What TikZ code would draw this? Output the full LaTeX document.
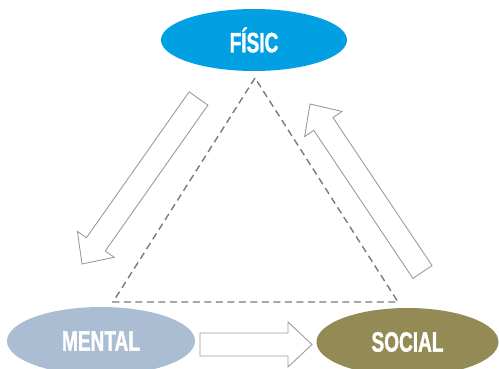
\documentclass[tikz,border=0pt]{standalone}
\usepackage{fontspec}
\newfontfamily\condfont{Liberation Sans}[FakeStretch=0.68,FakeBold=1.2]
\usetikzlibrary{shapes.geometric,calc}
\definecolor{fisicblue}{HTML}{00A0E3}
\definecolor{mentalblue}{HTML}{ABBDD3}
\definecolor{socialolive}{HTML}{948A55}
\definecolor{dashgrey}{HTML}{7A7A7A}
\definecolor{arrowgrey}{HTML}{9C9C9C}
\tikzset{
  blob/.style={ellipse, inner sep=0pt, text=white,
    font=\condfont\bfseries\fontsize{28}{28}\selectfont},
  triline/.style={draw=dashgrey, line width=1.4pt, dash pattern=on 7pt off 4.5pt},
  blockarrowstyle/.style={draw=arrowgrey, fill=white, line width=0.9pt, line join=miter},
}
% #1 name prefix, #2 tail coordinate, #3 tip coordinate
\newcommand\myblockarrow[3]{%
  \coordinate (#1hb) at ($(#3)!24pt!(#2)$);
  \draw[blockarrowstyle]
    ($(#2)!11.5pt!90:(#3)$) -- ($(#1hb)!11.5pt!-90:(#2)$) -- ($(#1hb)!22.5pt!-90:(#2)$)
    -- (#3) -- ($(#1hb)!22.5pt!90:(#2)$) -- ($(#1hb)!11.5pt!90:(#2)$)
    -- ($(#2)!11.5pt!-90:(#3)$) -- cycle;
}
\begin{document}
\begin{tikzpicture}[x=1pt,y=-1pt]
\useasboundingbox (0,0) rectangle (499,369);
% dashed triangle
\coordinate (apex) at (255,78);
\coordinate (bl) at (113,302);
\coordinate (br) at (398,302);
\draw[triline] (apex) -- (bl) -- (br) -- cycle;
% block arrows
\coordinate (aTail) at (198.5,98.5);
\coordinate (aTip) at (82,264);
\myblockarrow{a}{aTail}{aTip}
\coordinate (bTail) at (200,344.5);
\coordinate (bTip) at (312,344.5);
\myblockarrow{b}{bTail}{bTip}
\coordinate (cTail) at (422.5,272);
\coordinate (cTip) at (310,104);
\myblockarrow{c}{cTail}{cTip}
% ellipses
\node[blob, fill=fisicblue, minimum width=186pt, minimum height=62pt] (fisic) at (254,40) {FÍSIC};
\node[blob, fill=mentalblue, minimum width=188pt, minimum height=68pt] (mental) at (101,341) {MENTAL};
\node[blob, fill=socialolive, minimum width=182pt, minimum height=68pt] (social) at (407.5,342) {SOCIAL};
\end{tikzpicture}
\end{document}
